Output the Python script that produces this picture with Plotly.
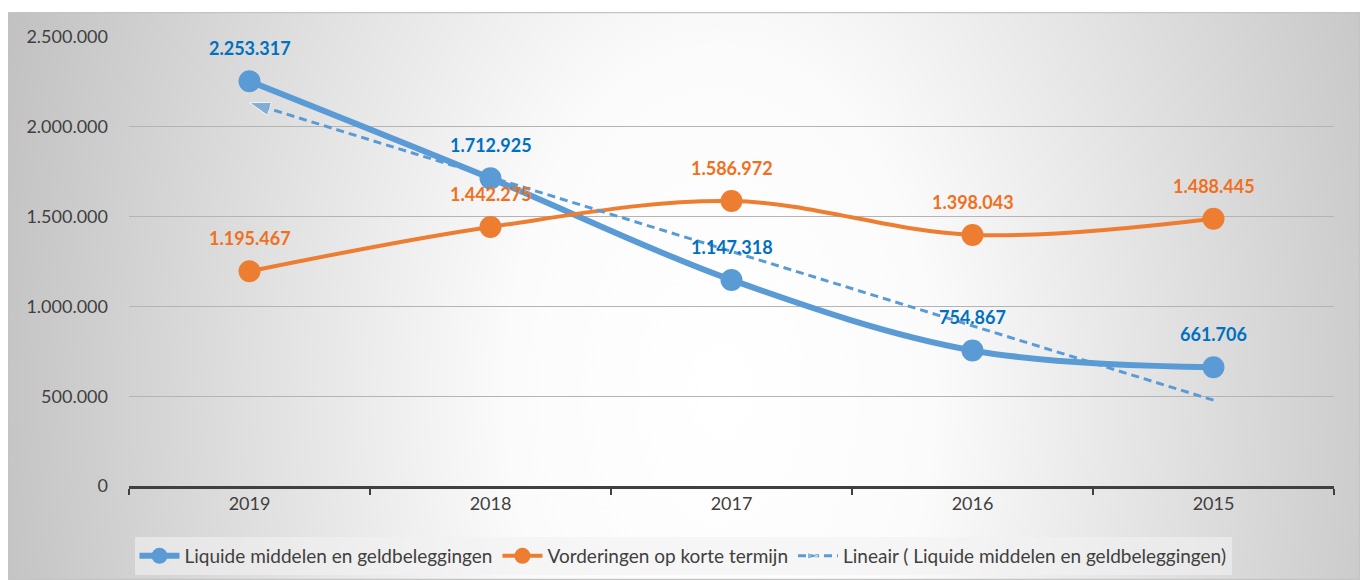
import base64
import numpy as np
import plotly.graph_objects as go

# ---------------- data ----------------
years = ["2019", "2018", "2017", "2016", "2015"]
liquide = [2253317, 1712925, 1147318, 754867, 661706]
vorderingen = [1195467, 1442275, 1586972, 1398043, 1488445]
y_ticks = [0, 500000, 1000000, 1500000, 2000000, 2500000]

name_liq = "Liquide middelen en geldbeleggingen"
name_vor = "Vorderingen op korte termijn"
name_trend = "Lineair ( Liquide middelen en geldbeleggingen)"

BLUE = "#5B9BD5"
ORANGE = "#ED7D31"
BLUE_LBL = "#0070C0"
ORANGE_LBL = "#F07020"
FONT = "Lato"


def fmt(v):
    return f"{v:,}".replace(",", ".")


# linear trendline of the blue series (least squares over category index)
idx = np.arange(len(years))
slope, intercept = np.polyfit(idx, liquide, 1)
trend_vals = slope * idx + intercept

fig = go.Figure()

fig.add_trace(go.Scatter(
    x=years, y=liquide, name=name_liq, mode="lines+markers",
    line=dict(color=BLUE, width=6, shape="spline"),
    marker=dict(color=BLUE, size=22), cliponaxis=False,
))
fig.add_trace(go.Scatter(
    x=years, y=vorderingen, name=name_vor, mode="lines+markers",
    line=dict(color=ORANGE, width=4, shape="spline"),
    marker=dict(color=ORANGE, size=22), cliponaxis=False,
))
# trendline drawn from last category back to first so the arrow sits at 2019
fig.add_trace(go.Scatter(
    x=[years[-1], years[0]], y=[trend_vals[-1], trend_vals[0]], name=name_trend,
    mode="lines+markers",
    line=dict(color=BLUE, width=3, dash="8px,5px"),
    marker=dict(color=BLUE, size=[0, 22], symbol="arrow", angleref="previous"),
    cliponaxis=False,
))

annotations = []
for i, v in enumerate(liquide):
    annotations.append(dict(x=i, y=v, xref="x", yref="y", text=fmt(v), showarrow=False,
                            yshift=33,
                            font=dict(family=FONT, size=18, color=BLUE_LBL, weight="bold")))
for i, v in enumerate(vorderingen):
    annotations.append(dict(x=i, y=v, xref="x", yref="y", text=fmt(v), showarrow=False,
                            yshift=33,
                            font=dict(family=FONT, size=18, color=ORANGE_LBL, weight="bold")))

# radial gradient chart-area background
W_IMG, H_IMG = 1353, 568
svg = f"""<svg xmlns='http://www.w3.org/2000/svg' width='{W_IMG}' height='{H_IMG}' viewBox='0 0 {W_IMG} {H_IMG}' preserveAspectRatio='none'>
<defs><radialGradient id='g' gradientUnits='userSpaceOnUse' cx='713' cy='380' r='760'
 gradientTransform='translate(713 380) scale(1 1.6) translate(-713 -380)'>
<stop offset='0' stop-color='#ffffff'/>
<stop offset='0.28' stop-color='#fbfbfb'/>
<stop offset='1' stop-color='#c0c0c0'/>
</radialGradient></defs>
<rect x='0.5' y='0.5' width='{W_IMG-1}' height='{H_IMG-1}' fill='url(#g)' stroke='#c4c4c4' stroke-width='1.5'/>
</svg>"""
src = "data:image/svg+xml;base64," + base64.b64encode(svg.encode()).decode()

OFF = 8  # page body margin
FW, FH = 1368 - OFF, 580 - OFF
L, R, T, B = 129 - OFF, 1334 - OFF, 37 - OFF, 486 - OFF
PW, PH = R - L, B - T

fig.update_layout(
    width=FW, height=FH,
    margin=dict(l=L, r=FW - R, t=T, b=FH - B, autoexpand=False),
    paper_bgcolor="white",
    plot_bgcolor="rgba(0,0,0,0)",
    separators=",.",
    font=dict(family=FONT, color="#404040"),
    showlegend=True,
    legend=dict(
        orientation="h", x=(683 - OFF - L) / PW, xanchor="center",
        y=(B - (537 - OFF)) / PH, yanchor="top",
        bgcolor="rgba(242,242,242,0.6)",
        font=dict(family=FONT, size=19, color="#404040"),
        itemwidth=40, traceorder="normal",
    ),
    images=[dict(
        source=src, xref="paper", yref="paper",
        x=(7 - OFF - L) / PW, y=(B - (12 - OFF)) / PH,
        sizex=W_IMG / PW, sizey=H_IMG / PH,
        xanchor="left", yanchor="top", sizing="stretch", layer="below",
    )],
    annotations=annotations,
)

fig.update_xaxes(
    type="category", categoryorder="array", categoryarray=years,
    range=[-0.5, len(years) - 0.5],
    showline=True, linecolor="#404040", linewidth=2.5,
    ticks="outside", tickson="boundaries", ticklen=6, tickwidth=2, tickcolor="#404040",
    showgrid=False,
    tickfont=dict(family=FONT, size=18, color="#404040"),
)
fig.update_yaxes(
    range=[0, 2500000], tickvals=y_ticks, tickformat=",d",
    showgrid=True, gridcolor="#b4b4b4", gridwidth=1,
    zeroline=False, showline=False, ticks="",
    ticklabelstandoff=20,
    tickfont=dict(family=FONT, size=18, color="#404040"),
)

fig.write_html("out.html")
